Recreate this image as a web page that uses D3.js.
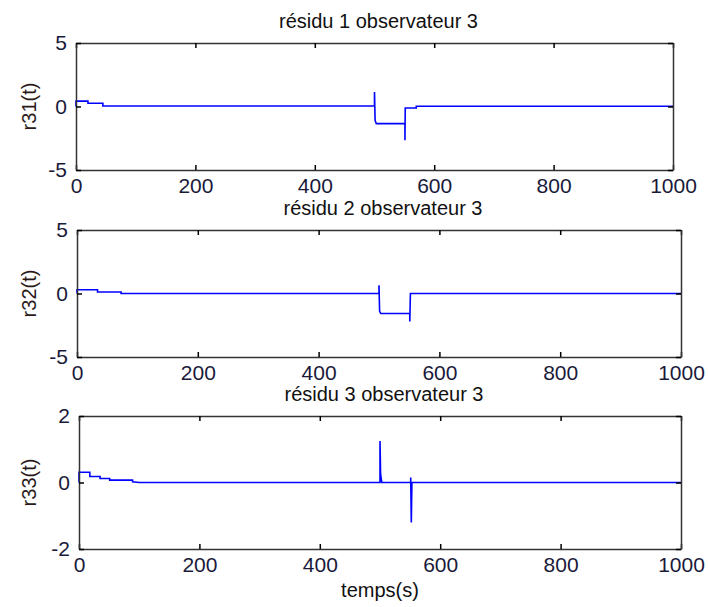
<!DOCTYPE html>
<html>
<head>
<meta charset="utf-8">
<script src="https://cdn.jsdelivr.net/npm/d3@7"></script>
<style>
  body { margin: 0; background: #fff; }
  text { font-family: "Liberation Sans", Arial, sans-serif; }
</style>
</head>
<body>
<div id="chart"></div>
<script>
// values: [t, r(t)]
var residu1 = [[0,0],[0,0.42],[20,0.42],[20,0.26],[45,0.26],[45,0.04],[500,0.04],[500,1.15],
  [501,-1.1],[503,-1.35],[551,-1.35],[551,-2.65],[551.5,-0.12],[570,-0.12],[570,0.02],[1000,0.02]];
var residu2 = [[0,0],[0,0.3],[34,0.3],[34,0.12],[73,0.12],[73,0],[500,0],[500,0.65],
  [501,-1.4],[503,-1.58],[551,-1.58],[551,-2.2],[552,0],[1000,0]];
var residu3 = [[0,0],[0,0.31],[18,0.31],[18,0.18],[35,0.18],[35,0.12],[51,0.12],[51,0.07],
  [89,0.07],[89,0.02],[100,0],[500,0],[500,1.25],[501,0.25],[503,0],[551,0],[551,0.15],
  [552,-1.2],[553,0],[1000,0]];

var titles = ["résidu 1 observateur 3", "résidu 2 observateur 3", "résidu 3 observateur 3"];
var yLabels = ["r31(t)", "r32(t)", "r33(t)"];
var yDomains = [[-5, 5], [-5, 5], [-2, 2]];
var yTicks = [[-5, 0, 5], [-5, 0, 5], [-2, 0, 2]];
var xTicks = [0, 200, 400, 600, 800, 1000];
var xLabel = "temps(s)";

var width = 708, height = 607,
    fontSize = 21,
    //the three frames are not quite aligned in the original figure
    panels = [{left: 76, right: 673, top: 43, bottom: 170},
              {left: 77, right: 681, top: 230, bottom: 357},
              {left: 79, right: 681, top: 416, bottom: 549}],
    series = [residu1, residu2, residu3];

var plain = function (d) { return String(d); }; //matlab style: -5, 1000

var svg = d3.select("#chart").append("svg")
    .attr("width", width)
    .attr("height", height);

panels.forEach(function (p, i) {
    var x = d3.scaleLinear().domain([0, 1000]).range([p.left, p.right]);
    var y = d3.scaleLinear().domain(yDomains[i]).range([p.bottom, p.top]);
    var g = svg.append("g");

    //data line
    g.append("path")
        .datum(series[i])
        .attr("fill", "none")
        .attr("stroke", "#0000ff")
        .attr("stroke-width", 1.6)
        .attr("d", d3.line().x(function (d) { return x(d[0]); }).y(function (d) { return y(d[1]); }));

    //axes, ticks inward like matlab
    g.append("g")
        .attr("transform", "translate(0," + p.bottom + ")")
        .call(d3.axisBottom(x).tickValues(xTicks).tickSizeInner(-5).tickSizeOuter(0).tickPadding(8).tickFormat(plain));
    g.append("g")
        .attr("transform", "translate(0," + p.top + ")")
        .call(d3.axisTop(x).tickValues(xTicks).tickSizeInner(-5).tickSizeOuter(0).tickFormat(""));
    g.append("g")
        .attr("transform", "translate(" + p.left + ",0)")
        .call(d3.axisLeft(y).tickValues(yTicks[i]).tickSizeInner(-5).tickSizeOuter(0).tickPadding(9).tickFormat(plain));
    g.append("g")
        .attr("transform", "translate(" + p.right + ",0)")
        .call(d3.axisRight(y).tickValues(yTicks[i]).tickSizeInner(-5).tickSizeOuter(0).tickFormat(""));

    g.selectAll(".domain").attr("stroke", "#333").attr("stroke-width", 1.5);
    g.selectAll(".tick line").attr("stroke", "#000").attr("stroke-width", 1.5);
    g.selectAll(".tick text").attr("font-size", fontSize).attr("fill", "#1a1a3a")
        .attr("font-family", "Liberation Sans, Arial, sans-serif");

    g.append("text")
        .attr("x", (p.left + p.right) / 2 + 4)
        .attr("y", p.top - 15)
        .attr("text-anchor", "middle")
        .attr("font-size", fontSize - 1)
        .attr("fill", "#111")
        .text(titles[i]);

    g.append("text")
        .attr("transform", "translate(36," + (p.top + p.bottom) / 2 + ") rotate(-90)")
        .attr("text-anchor", "middle")
        .attr("font-size", fontSize - 1)
        .attr("fill", "#2a1a1a")
        .text(yLabels[i]);
});

svg.append("text")
    .attr("x", 380)
    .attr("y", 597)
    .attr("text-anchor", "middle")
    .attr("font-size", fontSize - 1)
    .attr("fill", "#111")
    .text(xLabel);
</script>
</body>
</html>
